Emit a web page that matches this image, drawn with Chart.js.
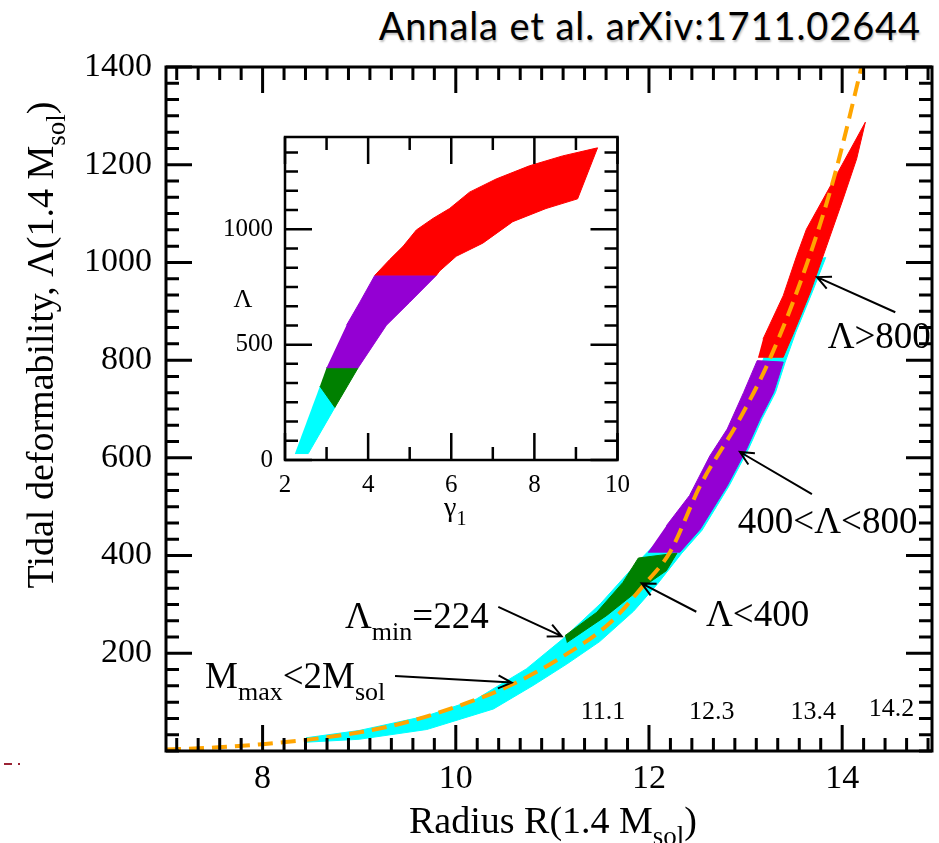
<!DOCTYPE html>
<html>
<head>
<meta charset="utf-8">
<script src="https://cdn.jsdelivr.net/npm/chart.js@4.4.0/dist/chart.umd.min.js"></script>
<style>
  body { margin: 0; background: #fff; width: 939px; height: 843px; overflow: hidden; position: relative; }
  #principal { position: absolute; left: 0; top: 0; }
  #recuadro { position: absolute; left: 200px; top: 110px; }
  #titulo { position: absolute; right: 18px; top: 5px; line-height: 40px; font-family: Lato, sans-serif; font-size: 38px; letter-spacing: 0.9px; color: #000; text-shadow: 1px 2px 2px rgba(0,0,0,0.25); white-space: nowrap; }
  .marca { position: absolute; background: #9b2335; height: 2px; top: 763px; }
</style>
</head>
<body>
<div id="titulo">Annala et al. arXiv:1711.02644</div>
<canvas id="principal" width="939" height="843"></canvas>
<canvas id="recuadro" width="440" height="420"></canvas>
<div class="marca" style="left:4px;width:8px"></div>
<div class="marca" style="left:18px;width:2px"></div>
<script>
/* DATOS - grafico principal */
const ejeXMayor = [8, 10, 12, 14]
const ejeYMayor = [200, 400, 600, 800, 1000, 1200, 1400]

// curva naranja discontinua (R, Lambda)
const curvaNaranja = [[7.0, 3], [7.5, 7], [8.0, 14], [8.66, 28], [9.35, 52], [10.04, 93], [10.56, 134], [11.08, 190], [11.6, 263], [11.94, 338], [12.22, 408], [12.53, 543], [12.94, 680], [13.25, 802], [13.64, 1000], [13.92, 1177], [14.2, 1400], [14.23, 1425]]

// bandas (contornos cerrados)
const bandaCian = [[8.45, 18], [9.0, 24], [9.7, 44], [10.39, 86], [10.8, 134], [11.15, 178], [11.49, 224], [11.84, 286], [12.08, 340], [12.34, 405], [12.55, 452], [12.83, 543], [13.03, 618], [13.17, 680], [13.31, 734], [13.41, 796], [13.52, 857], [13.69, 939], [13.83, 1010], [13.6, 1000], [13.22, 820], [13.05, 734], [12.7, 604], [12.25, 461], [11.9, 390], [11.5, 302], [11.1, 228], [10.73, 168], [10.21, 106], [9.7, 72], [9.0, 42], [8.45, 27]]
const bandaVerde = [[11.13, 236], [11.46, 284], [11.73, 345], [11.89, 395], [12.29, 405], [12.18, 369], [11.91, 332], [11.56, 277], [11.15, 222]]
const bandaMorada = [[11.99, 407], [12.32, 407], [12.53, 454], [12.81, 543], [13.01, 618], [13.15, 680], [13.29, 734], [13.39, 796], [13.12, 799], [12.98, 734], [12.81, 659], [12.63, 604], [12.42, 523], [12.18, 461]]
const bandaRoja = [[13.13, 806], [13.39, 806], [13.5, 857], [13.67, 939], [13.84, 1034], [14.01, 1130], [14.15, 1212], [14.24, 1287], [13.88, 1157], [13.63, 1068], [13.53, 1014], [13.39, 932], [13.18, 843]]

const radiosAbajo = ["11.1", "12.3", "13.4", "14.2"]

/* DATOS - recuadro (gamma1, Lambda) */
const recXMayor = [2, 4, 6, 8, 10]
const recYMayor = [0, 500, 1000]
const recCian = [[2.24, 28], [2.56, 28], [3.2, 228], [2.84, 320]]
const recVerde = [[2.84, 320], [3.2, 228], [3.76, 400], [3.0, 400]]
const recMorada = [[3.0, 400], [3.76, 400], [4.44, 584], [5.0, 684], [5.64, 800], [4.16, 800], [3.8, 684], [3.48, 584]]
const recRoja = [[4.16, 800], [4.52, 869], [4.84, 926], [5.16, 997], [5.56, 1047], [5.96, 1090], [6.44, 1161], [7.08, 1218], [7.88, 1275], [8.68, 1318], [9.52, 1353], [9.04, 1132], [8.28, 1090], [7.48, 1033], [6.76, 940], [6.12, 883], [5.72, 819], [5.64, 800]]

/* ESTILO */
const SERIF = "'Liberation Serif', 'Times New Roman', serif"
const CIAN = "#00ffff", VERDE = "#008000", MORADO = "#9400d3", ROJO = "#ff0000", NARANJA = "#ffa500"

/* FUNCIONES */
const aPuntos = (arr) => arr.map(p => ({ x: p[0], y: p[1] }))

function banda(arr, color) {
    return {
        data: aPuntos(arr), borderColor: color, backgroundColor: color,
        borderWidth: 1, pointRadius: 0, fill: 'shape', tension: 0
    }
}

// texto con subindices: partes = [[texto, esSub], ...]
function textoSub(ctx, partes, x, y, tam, alinear) {
    const chico = Math.round(tam * 0.7)
    let total = 0
    partes.forEach(([t, sub]) => {
        ctx.font = (sub ? chico : tam) + "px " + SERIF
        total += ctx.measureText(t).width
    })
    let cx = alinear === "center" ? x - total / 2 : x
    ctx.textAlign = "left"
    ctx.textBaseline = "alphabetic"
    partes.forEach(([t, sub]) => {
        ctx.font = (sub ? chico : tam) + "px " + SERIF
        ctx.fillText(t, cx, y + (sub ? tam * 0.32 : 0))
        cx += ctx.measureText(t).width
    })
}

function flecha(ctx, x1, y1, x2, y2) {
    const ang = Math.atan2(y2 - y1, x2 - x1)
    const L = 15
    ctx.beginPath()
    ctx.moveTo(x1, y1); ctx.lineTo(x2, y2)
    ctx.moveTo(x2 - L * Math.cos(ang - 0.45), y2 - L * Math.sin(ang - 0.45))
    ctx.lineTo(x2, y2)
    ctx.lineTo(x2 - L * Math.cos(ang + 0.45), y2 - L * Math.sin(ang + 0.45))
    ctx.stroke()
}

// marco con marcas hacia adentro en los cuatro lados
function dibujarMarco(chart, o) {
    const { ctx, chartArea: a, scales: { x, y } } = chart
    ctx.save()
    ctx.strokeStyle = "#000"
    ctx.lineWidth = o.grosor
    ctx.lineCap = "butt"
    ctx.beginPath()
    o.xMenor.forEach(v => {
        const px = x.getPixelForValue(v)
        const l = o.xMayor.some(m => Math.abs(m - v) < 1e-6) ? o.largo : o.corto
        ctx.moveTo(px, a.bottom); ctx.lineTo(px, a.bottom - l)
        ctx.moveTo(px, a.top); ctx.lineTo(px, a.top + l)
    })
    o.yMenor.forEach(v => {
        const py = y.getPixelForValue(v)
        const l = o.yMayor.some(m => Math.abs(m - v) < 1e-6) ? o.largo : o.corto
        ctx.moveTo(a.left, py); ctx.lineTo(a.left + l, py)
        ctx.moveTo(a.right, py); ctx.lineTo(a.right - l, py)
    })
    ctx.stroke()
    ctx.strokeRect(a.left, a.top, a.right - a.left, a.bottom - a.top)
    ctx.restore()
}

function pasos(desde, hasta, paso) {
    const r = []
    for (let v = desde; v <= hasta + 1e-6; v += paso) r.push(Math.round(v * 1000) / 1000)
    return r
}

/* GRAFICO PRINCIPAL */
const marcoPrincipal = {
    id: "marcoPrincipal",
    afterDatasetsDraw(chart) {
        const xm = []
        for (let k = -4; k <= 31; k++) { const v = 8 + k * 2 / 9; if (v <= 14.93) xm.push(Math.round(v * 1000) / 1000) }
        dibujarMarco(chart, {
            grosor: 3, largo: 26, corto: 13,
            xMayor: ejeXMayor, yMayor: ejeYMayor,
            xMenor: xm, yMenor: pasos(0, 1400, 200 / 6)
        })
    },
    afterDraw(chart) {
        const { ctx, scales: { x, y } } = chart
        const X = v => x.getPixelForValue(v), Y = v => y.getPixelForValue(v)
        ctx.save()
        ctx.fillStyle = "#000"
        ctx.strokeStyle = "#000"
        ctx.lineWidth = 2

        // titulos de ejes
        textoSub(ctx, [["Radius R(1.4 M", false], ["sol", true], [")", false]], 553, 833, 38, "center")
        ctx.save()
        ctx.translate(53, 345)
        ctx.rotate(-Math.PI / 2)
        textoSub(ctx, [["Tidal deformability, \u039B(1.4 M", false], ["sol", true], [")", false]], 0, 0, 38, "center")
        ctx.restore()

        // anotaciones
        const T = 37, base = 13
        textoSub(ctx, [["\u039B>800", false]], X(13.85), Y(851) + base, T, "left")
        flecha(ctx, X(14.55), Y(898), X(13.74), Y(970))
        textoSub(ctx, [["400<\u039B<800", false]], X(12.92), Y(473) + base, T, "left")
        flecha(ctx, X(13.687), Y(526), X(12.942), Y(612))
        textoSub(ctx, [["\u039B<400", false]], X(12.59), Y(282) + base, T, "left")
        flecha(ctx, X(12.49), Y(285), X(11.924), Y(343))
        textoSub(ctx, [["\u039B", false], ["min", true], ["=224", false]], X(8.853), Y(278) + base, T, "left")
        flecha(ctx, X(10.44), Y(295), X(11.096), Y(235))
        textoSub(ctx, [["M", false], ["max", true], ["<2M", false], ["sol", true]], X(7.404), Y(155.5) + base, T, "left")
        flecha(ctx, X(9.371), Y(153.5), X(10.579), Y(140))

        // radios debajo de la curva
        const rx = [11.524, 12.649, 13.701, 14.512], ry = [84, 84, 84, 90]
        radiosAbajo.forEach((t, i) => textoSub(ctx, [[t, false]], X(rx[i]), Y(ry[i]) + 9, 26, "center"))
        ctx.restore()
    }
}

new Chart(document.querySelector("#principal"), {
    type: "line",
    data: {
        datasets: [
            { data: aPuntos(curvaNaranja), borderColor: NARANJA, borderWidth: 4, borderDash: [15, 8], pointRadius: 0, fill: false, cubicInterpolationMode: "monotone" },
            banda(bandaRoja, ROJO),
            banda(bandaMorada, MORADO),
            banda(bandaVerde, VERDE),
            banda(bandaCian, CIAN)
        ]
    },
    options: {
        responsive: false, animation: false,
        layout: { padding: { top: 67, right: 7, left: 0, bottom: 0 } },
        plugins: { legend: { display: false }, tooltip: { enabled: false } },
        scales: {
            x: {
                type: "linear", min: 7, max: 14.93,
                grid: { display: false, drawTicks: false }, border: { display: false },
                ticks: { autoSkip: false, maxRotation: 0, padding: 8, color: "#000", font: { family: SERIF, size: 34 }, callback: v => String(v) },
                afterBuildTicks: s => { s.ticks = ejeXMayor.map(v => ({ value: v })) },
                afterFit: s => { s.height = 92 }
            },
            y: {
                type: "linear", min: 0, max: 1400,
                grid: { display: false, drawTicks: false }, border: { display: false },
                ticks: { autoSkip: false, padding: 14, color: "#000", font: { family: SERIF, size: 34 }, callback: v => String(v) },
                afterBuildTicks: s => { s.ticks = ejeYMayor.map(v => ({ value: v })) },
                afterFit: s => { s.width = 166 }
            }
        }
    },
    plugins: [marcoPrincipal]
})

/* RECUADRO */
const marcoRecuadro = {
    id: "marcoRecuadro",
    beforeDraw(chart) {
        const { ctx, chartArea: a } = chart
        ctx.save()
        ctx.fillStyle = "#fff"
        ctx.fillRect(a.left, a.top, a.right - a.left, a.bottom - a.top)
        ctx.restore()
    },
    afterDatasetsDraw(chart) {
        dibujarMarco(chart, {
            grosor: 2.5, largo: 27, corto: 13,
            xMayor: recXMayor, yMayor: recYMayor,
            xMenor: pasos(2, 10, 1), yMenor: pasos(0, 1400, 500 / 6)
        })
    },
    afterDraw(chart) {
        const { ctx, chartArea: a } = chart
        ctx.save()
        ctx.fillStyle = "#000"
        textoSub(ctx, [["\u03B3", false], ["1", true]], (a.left + a.right) / 2 + 4, a.bottom + 56, 28, "center")
        textoSub(ctx, [["\u039B", false]], a.left - 42, a.top + 170, 26, "center")
        ctx.restore()
    }
}

new Chart(document.querySelector("#recuadro"), {
    type: "line",
    data: {
        datasets: [
            banda(recRoja, ROJO),
            banda(recMorada, MORADO),
            banda(recVerde, VERDE),
            banda(recCian, CIAN)
        ]
    },
    options: {
        responsive: false, animation: false,
        layout: { padding: { top: 23, right: 22, left: 0, bottom: 0 } },
        plugins: { legend: { display: false }, tooltip: { enabled: false } },
        scales: {
            x: {
                type: "linear", min: 2, max: 10,
                grid: { display: false, drawTicks: false }, border: { display: false },
                ticks: { autoSkip: false, maxRotation: 0, padding: 10, color: "#000", font: { family: SERIF, size: 25 }, callback: v => String(v) },
                afterBuildTicks: s => { s.ticks = recXMayor.map(v => ({ value: v })) },
                afterFit: s => { s.height = 70 }
            },
            y: {
                type: "linear", min: 0, max: 1400,
                grid: { display: false, drawTicks: false }, border: { display: false },
                ticks: { autoSkip: false, padding: 12, color: "#000", font: { family: SERIF, size: 25 }, callback: v => String(v) },
                afterBuildTicks: s => { s.ticks = recYMayor.map(v => ({ value: v })) },
                afterFit: s => { s.width = 85 }
            }
        }
    },
    plugins: [marcoRecuadro]
})
</script>
</body>
</html>
